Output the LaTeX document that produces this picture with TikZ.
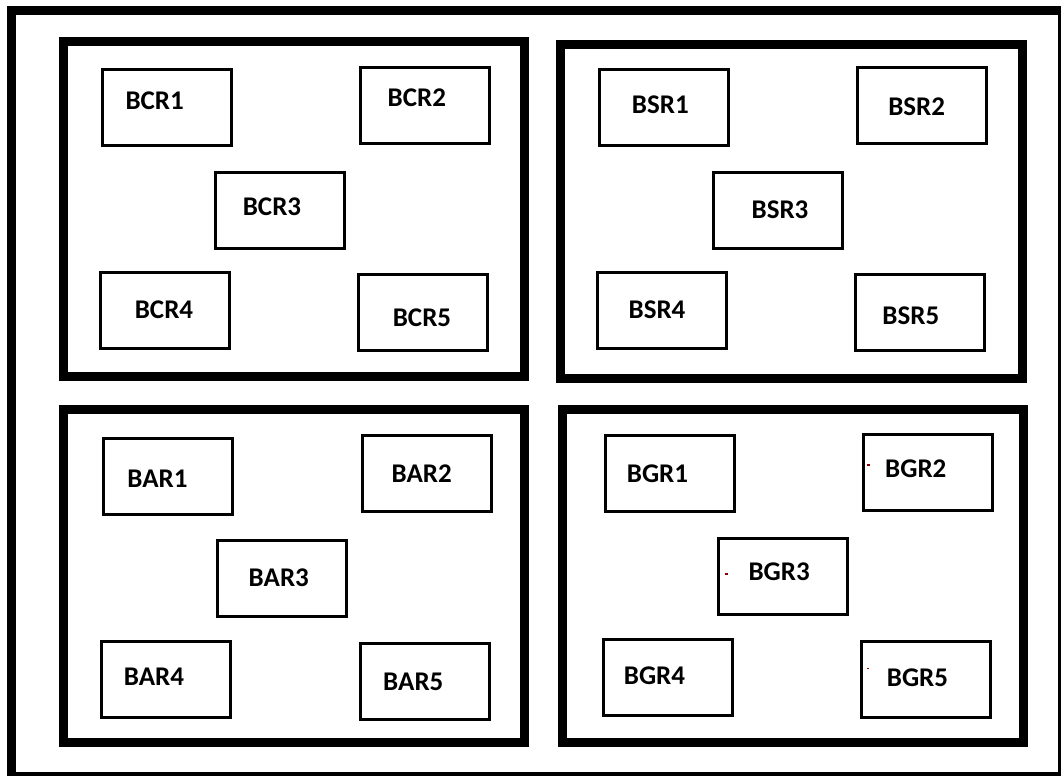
\documentclass[tikz,border=0pt]{standalone}
\usepackage{fontspec}
\setmainfont{Carlito}
\usepackage{tikz}
\usetikzlibrary{positioning}

\tikzset{
  outerframe/.style={line width=9pt},
  panel/.style={draw, line width=9pt, inner sep=0pt},
  rbox/.style={draw, line width=3pt, minimum width=129pt, minimum height=76pt, inner sep=0pt},
  rlabel/.style={font=\fontsize{27}{30}\selectfont\bfseries, inner sep=0pt},
  speck/.style={fill=red!55!black},
}

\begin{document}
\begin{tikzpicture}[x=1pt, y=-1pt]
\useasboundingbox (0,0) rectangle (1061,776);
% outer border
\draw[outerframe] (11.5,10.5) rectangle (1062.5,776.5);
% four panels
\node[panel, minimum width=461.5pt, minimum height=334.5pt] (pc) at (293.75,209.25) {};
\node[panel, minimum width=461.9pt, minimum height=333.8pt] (ps) at (791.25,211.1) {};
\node[panel, minimum width=461.5pt, minimum height=333.5pt] (pa) at (293.75,575.75) {};
\node[panel, minimum width=461.5pt, minimum height=333.5pt] (pg) at (792.95,575.75) {};
% boxes and their labels
\foreach \nm/\bx/\by/\tx/\ty/\txt in {
  bcr1/166.5/107.5/154.7/100.8/BCR1, bcr2/424.7/105.8/416.8/97.5/BCR2,
  bcr3/280.2/210.3/272/207/BCR3, bcr4/164.8/310.8/164/309.5/BCR4,
  bcr5/422.7/312.8/422/317.5/BCR5,
  bsr1/663.8/107.5/660.3/105/BSR1, bsr2/922/105.5/916.7/106.8/BSR2,
  bsr3/777.8/210.3/780/209.5/BSR3, bsr4/662/310.8/657/309.5/BSR4,
  bsr5/920/312.8/910.8/315.3/BSR5,
  bar1/168.3/476.2/157.5/478.8/BAR1, bar2/426.7/473.8/421.7/473.3/BAR2,
  bar3/282.2/578.3/278.8/577.8/BAR3, bar4/166.3/679.2/154/676.3/BAR4,
  bar5/424.7/681.2/413.3/682.2/BAR5,
  bgr1/669.5/473.8/657.5/473.3/BGR1, bgr2/927.8/472.2/915.8/469.2/BGR2,
  bgr3/783.3/576.7/779.2/572.2/BGR3, bgr4/667.8/677.2/654.5/675.8/BGR4,
  bgr5/925.5/679.2/917.5/678.2/BGR5}
{
  \node[rbox] (\nm) at (\bx,\by) {};
  \node[rlabel] (\nm-t) at (\tx,\ty) {\txt};
}
% stray specks
\fill[speck] (866.8,464.3) rectangle (869.8,465.8);
\fill[speck] (725.2,573.3) rectangle (728.2,574.8);
\fill[speck, fill=red!70!black] (867,667.6) rectangle (868.5,669.1);
\end{tikzpicture}
\end{document}
